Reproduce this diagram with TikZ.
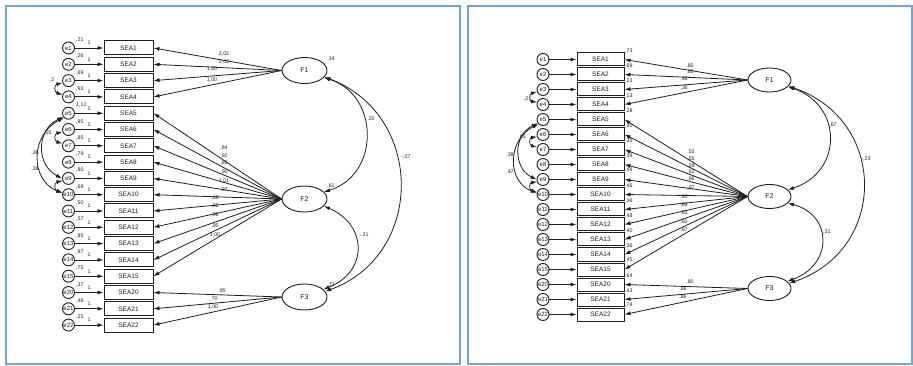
\documentclass[tikz,border=0pt]{standalone}
\usepackage{fontspec}
\setmainfont{Liberation Sans}
\usetikzlibrary{shapes.geometric,arrows.meta}
\definecolor{panel}{RGB}{110,165,225}
\definecolor{ink}{RGB}{30,30,30}
\begin{document}
\begin{tikzpicture}[x=1pt,y=-1pt,
  every node/.style={text=ink},
  box/.style={draw=ink,line width=1pt,minimum width=49pt,minimum height=14pt,inner sep=0pt,font=\fontsize{6.5}{7}\selectfont},
  rbox/.style={box,minimum width=47pt,minimum height=13pt},
  err/.style={draw=ink,circle,line width=0.9pt,minimum size=12pt,inner sep=0pt,font=\fontsize{6}{7}\selectfont},
  lat/.style={draw=ink,ellipse,line width=0.9pt,minimum width=45pt,minimum height=26pt,inner sep=0pt,font=\fontsize{7}{8}\selectfont},
  rlat/.style={lat,minimum width=43pt,minimum height=24pt},
  arr/.style={draw=ink,-{Latex[length=6pt,width=4pt]},line width=0.8pt},
  darr/.style={draw=ink,{Latex[length=6pt,width=4pt]}-{Latex[length=6pt,width=4pt]},line width=0.8pt},
  lab/.style={inner sep=0pt,font=\fontsize{5.3}{6}\selectfont},
  frame/.style={draw=panel,line width=1.5pt}]
\useasboundingbox (0,0) rectangle (913,366);
\draw[frame] (6,6) rectangle (460,364);
\draw[frame] (468,6) rectangle (912,364);

% ---------------- LEFT PANEL ----------------
\foreach \n/\v [count=\i from 0] in {1/{,21},2/{,26},3/{,69},4/{,93},5/{1,12},6/{,95},7/{,85},8/{,79},9/{,80},10/{,69},11/{,50},12/{,57},13/{,85},14/{,97},15/{,75},20/{,37},21/{,46},22/{,25}}{
  \pgfmathsetmacro\yy{48+16.3*\i}
  \node[box] (lS\n) at (128.5,\yy) {SEA\n};
  \node[err] (le\n) at (68.5,\yy) {e\n};
  \draw[arr] (le\n) -- (lS\n);
  \node[lab,anchor=west] at (76,\yy-8) {\v};
  \node[lab] at (89,\yy-5) {1};
}
\node[lat] (lF1) at (304.5,70.5) {F1};
\node[lat] (lF2) at (304.5,199) {F2};
\node[lat] (lF3) at (304.5,297) {F3};
\foreach \n in {1,2,3,4} \draw[arr] (lF1.west) -- (lS\n.east);
\foreach \n in {5,...,15} \draw[arr] (lF2.west) -- (lS\n.east);
\foreach \n in {20,21,22} \draw[arr] (lF3.west) -- (lS\n.east);
% loadings
\node[lab] at (224,54) {2,02};
\node[lab] at (224,62) {2,02};
\node[lab] at (212,69) {1,20};
\node[lab] at (212,80) {1,00};
\node[lab] at (224,148) {,84};
\node[lab] at (224,156) {,92};
\node[lab] at (224,163) {,85};
\node[lab] at (224,172) {,90};
\node[lab] at (224,181) {1,01};
\node[lab] at (224,190) {,97};
\node[lab] at (215,198) {,68};
\node[lab] at (215,206) {,92};
\node[lab] at (215,215) {,96};
\node[lab] at (215,226) {,95};
\node[lab] at (215,235) {1,00};
\node[lab] at (222,291) {,95};
\node[lab] at (214,299) {,70};
\node[lab] at (213,307) {1,00};
% factor variances
\node[lab] at (331,59) {,14};
\node[lab] at (331,186) {,61};
\node[lab] at (331,285) {,73};
% factor covariances
\draw[darr] (lF1.-20) .. controls (380,95) and (380,175) .. (lF2.20);
\draw[darr] (lF1.-18) .. controls (425,115) and (425,255) .. (lF3.15);
\draw[darr] (lF2.-20) .. controls (368,225) and (368,272) .. (lF3.22);
\node[lab] at (371,119) {,20};
\node[lab] at (406,157) {-,07};
\node[lab] at (364,235) {-,21};
% error covariances
\draw[darr] (le3.200) .. controls (54,85) and (54,92) .. (le4.160);
\draw[darr] (le6.200) .. controls (54,134) and (54,141) .. (le7.160);
\draw[darr] (le9.200) .. controls (54,183) and (54,190) .. (le10.160);
\draw[darr] (le5.215) .. controls (36,130) and (36,165) .. (le9.180);
\draw[darr] (le5.225) .. controls (30,135) and (30,180) .. (le10.165);
\node[lab] at (52,80) {,2};
\node[lab] at (48,133) {,25};
\node[lab] at (50,188) {,};
\node[lab] at (35,153) {,36};
\node[lab] at (35,169) {,38};

% ---------------- RIGHT PANEL ----------------
\foreach \n/\r [count=\i from 0] in {1/{,73},2/{,69},3/{,23},4/{,13},5/{,28},6/{,30},7/{,35},8/{,39},9/{,44},10/{,46},11/{,36},12/{,48},13/{,40},14/{,36},15/{,45},20/{,64},21/{,43},22/{,74}}{
  \pgfmathsetmacro\yy{59.5+15*\i}
  \node[rbox] (rS\n) at (600.5,\yy) {SEA\n};
  \node[err] (re\n) at (543,\yy) {e\n};
  \draw[arr] (re\n) -- (rS\n);
  \node[lab,anchor=west] at (625,\yy-9) {\r};
}
\node[rlat] (rF1) at (769.5,80) {F1};
\node[rlat] (rF2) at (769.5,196.5) {F2};
\node[rlat] (rF3) at (769.5,288.5) {F3};
\foreach \n in {1,2,3,4} \draw[arr] (rF1.west) -- (rS\n.east);
\foreach \n in {5,...,15} \draw[arr] (rF2.west) -- (rS\n.east);
\foreach \n in {20,21,22} \draw[arr] (rF3.west) -- (rS\n.east);
\node[lab] at (690,66) {,85};
\node[lab] at (690,72) {,83};
\node[lab] at (684,79) {,48};
\node[lab] at (684,88) {,36};
\node[lab] at (691,152) {,53};
\node[lab] at (691,159) {,55};
\node[lab] at (691,166) {,59};
\node[lab] at (691,172) {,62};
\node[lab] at (691,179) {,66};
\node[lab] at (691,188) {,67};
\node[lab] at (684,197) {,60};
\node[lab] at (684,205) {,69};
\node[lab] at (684,213) {,63};
\node[lab] at (684,222) {,60};
\node[lab] at (684,230) {,67};
\node[lab] at (690,282) {,80};
\node[lab] at (683,289) {,66};
\node[lab] at (683,297) {,86};
\draw[darr] (rF1.-20) .. controls (843,105) and (843,172) .. (rF2.20);
\draw[darr] (rF1.-18) .. controls (888,120) and (888,250) .. (rF3.15);
\draw[darr] (rF2.-20) .. controls (833,215) and (833,265) .. (rF3.22);
\node[lab] at (833,125) {,67};
\node[lab] at (866,159) {-,23};
\node[lab] at (826,232) {-,31};
\draw[darr] (re3.200) .. controls (529,94) and (529,101) .. (re4.160);
\draw[darr] (re6.200) .. controls (529,138) and (529,145) .. (re7.160);
\draw[darr] (re9.200) .. controls (529,183) and (529,190) .. (re10.160);
\draw[darr] (re5.215) .. controls (513,135) and (513,168) .. (re9.180);
\draw[darr] (re5.225) .. controls (507,140) and (507,182) .. (re10.165);
\node[lab] at (526,99) {,2};
\node[lab] at (522,137) {,65};
\node[lab] at (527,187) {,};
\node[lab] at (510,155) {,38};
\node[lab] at (510,172) {,47};
\end{tikzpicture}
\end{document}
